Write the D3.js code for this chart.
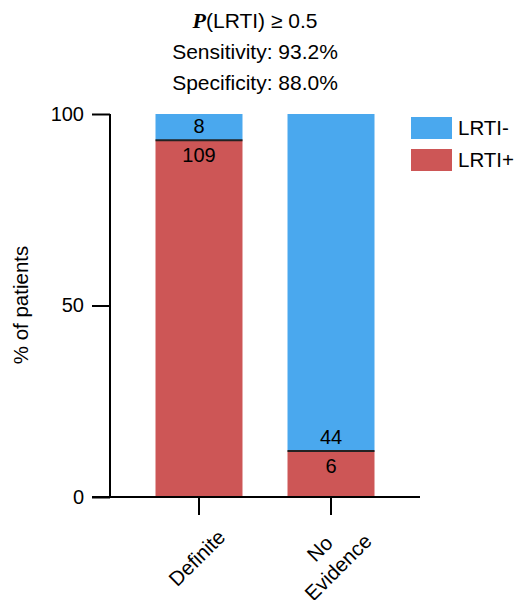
<!DOCTYPE html>
<html>
<head>
<meta charset="utf-8">
<script src="https://cdn.jsdelivr.net/npm/d3@7"></script>
<style>
  body { margin: 0; background: #fff; }
  svg text { font-family: "Liberation Sans", Arial, sans-serif; fill: #000; }
</style>
</head>
<body>
<div id="chart"></div>
<script>
// Data
var categories = ["Definite", "No Evidence"];
var lrtiPos = [109, 6];   // LRTI+ counts
var lrtiNeg = [8, 44];    // LRTI- counts
var yTicks = [0, 50, 100];
var legendLabels = ["LRTI-", "LRTI+"];
var titleLines = ["Sensitivity: 93.2%", "Specificity: 88.0%"];

var colors = { neg: "#4AA8EE", pos: "#CD5656" };

var svg = d3.select("#chart").append("svg")
  .attr("width", 516)
  .attr("height", 600);

// Scales
var xScale = d3.scaleBand()
  .domain(categories)
  .range([155.5, 374.5])
  .paddingInner(0.341)
  .paddingOuter(0);
var yScale = d3.scaleLinear()
  .domain([0, 100])
  .range([497, 114]);

// Stack as percent
var rows = categories.map(function(c, i) {
  var total = lrtiPos[i] + lrtiNeg[i];
  return { cat: c, pos: lrtiPos[i] / total * 100, neg: lrtiNeg[i] / total * 100, nPos: lrtiPos[i], nNeg: lrtiNeg[i] };
});

var bars = svg.append("g");
rows.forEach(function(d) {
  var x0 = xScale(d.cat), bw = xScale.bandwidth();
  bars.append("rect")
    .attr("x", x0).attr("width", bw)
    .attr("y", yScale(100)).attr("height", yScale(d.pos) - yScale(100))
    .attr("fill", colors.neg);
  bars.append("rect")
    .attr("x", x0).attr("width", bw)
    .attr("y", yScale(d.pos)).attr("height", yScale(0) - yScale(d.pos))
    .attr("fill", colors.pos);
  bars.append("line")
    .attr("x1", x0).attr("x2", x0 + bw)
    .attr("y1", yScale(d.pos)).attr("y2", yScale(d.pos))
    .attr("stroke", "#222").attr("stroke-width", 2);
  // count labels
  bars.append("text")
    .attr("x", x0 + bw / 2).attr("y", yScale(d.pos) - 7)
    .attr("text-anchor", "middle").attr("font-size", 20)
    .text(d.nNeg);
  bars.append("text")
    .attr("x", x0 + bw / 2).attr("y", yScale(d.pos) + 22)
    .attr("text-anchor", "middle").attr("font-size", 20)
    .text(d.nPos);
});

// Y axis
var yAxis = svg.append("g")
  .attr("transform", "translate(110,0)")
  .call(d3.axisLeft(yScale).tickValues(yTicks).tickSize(18).tickPadding(8));
yAxis.select(".domain").attr("stroke-width", 2).attr("d", "M0," + yScale(100) + "V" + yScale(0));
yAxis.selectAll(".tick line").attr("stroke-width", 2);
yAxis.selectAll(".tick text").attr("font-size", 20).attr("font-family", "Liberation Sans, Arial, sans-serif");

// X axis
var xAxis = svg.append("g")
  .attr("transform", "translate(0," + yScale(0) + ")")
  .call(d3.axisBottom(xScale).tickSize(18).tickFormat(""));
xAxis.select(".domain").attr("stroke-width", 2).attr("d", "M92,0H420");
xAxis.selectAll(".tick line").attr("stroke-width", 2);

// Rotated category labels
categories.forEach(function(c) {
  var cx = xScale(c) + xScale.bandwidth() / 2 - 2;
  var words = c.split(" ");
  var g = svg.append("g").attr("transform", "translate(" + cx + ",558) rotate(-45)");
  words.forEach(function(w, i) {
    g.append("text")
      .attr("x", 0)
      .attr("y", (i - (words.length - 1) / 2) * 26 + 7)
      .attr("text-anchor", "middle")
      .attr("font-size", 20.5)
      .text(w);
  });
});

// Y axis title
svg.append("text")
  .attr("transform", "translate(28,305) rotate(-90)")
  .attr("text-anchor", "middle")
  .attr("font-size", 20.5)
  .text("% of patients");

// Title
var t1 = svg.append("text")
  .attr("x", 255).attr("y", 28)
  .attr("text-anchor", "middle")
  .attr("font-size", 21);
t1.append("tspan")
  .attr("font-family", "Liberation Serif, Times New Roman, serif")
  .attr("font-style", "italic").attr("font-weight", "bold")
  .attr("font-size", 22)
  .text("P");
t1.append("tspan").text("(LRTI) \u2265 0.5");
titleLines.forEach(function(s, i) {
  svg.append("text")
    .attr("x", 255).attr("y", 59 + i * 31)
    .attr("text-anchor", "middle")
    .attr("font-size", 21)
    .text(s);
});

// Legend
var legend = svg.append("g");
legendLabels.forEach(function(l, i) {
  legend.append("rect")
    .attr("x", 411).attr("y", 117 + i * 32)
    .attr("width", 41).attr("height", 22)
    .attr("fill", i === 0 ? colors.neg : colors.pos);
  legend.append("text")
    .attr("x", 458).attr("y", 135 + i * 32)
    .attr("font-size", 20.5)
    .text(l);
});
</script>
</body>
</html>
